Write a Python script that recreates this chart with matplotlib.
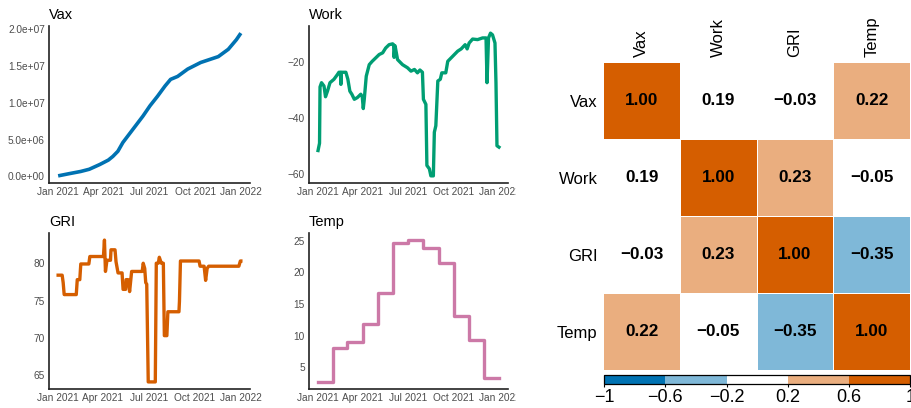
"""
Four daily indicators for 2021 (vaccinations, workplace mobility,
government response index, temperature) and their correlation matrix.
"""

import numpy as np
import pandas as pd
import matplotlib.pyplot as plt
import matplotlib.dates as mdates
from matplotlib.colors import ListedColormap, BoundaryNorm
from matplotlib.transforms import Bbox

plt.rcParams['font.family'] = ['Liberation Sans', 'DejaVu Sans']

# cumulative vaccinations
vax_dates = ['2021-01-01', '2021-01-23', '2021-02-15', '2021-03-04', '2021-03-25',
             '2021-04-11', '2021-04-20', '2021-04-30', '2021-05-10', '2021-05-30',
             '2021-06-19', '2021-07-03', '2021-07-18', '2021-08-02', '2021-08-13',
             '2021-08-27', '2021-09-16', '2021-10-12', '2021-11-16', '2021-12-06',
             '2021-12-22', '2021-12-31']
vax_values = [0.05e6, 0.35e6, 0.65e6, 0.95e6, 1.6e6,
              2.2e6, 2.7e6, 3.4e6, 4.6e6, 6.4e6,
              8.2e6, 9.6e6, 10.9e6, 12.3e6, 13.2e6,
              13.6e6, 14.6e6, 15.5e6, 16.3e6, 17.3e6,
              18.6e6, 19.5e6]

# workplace mobility (% change from baseline)
work_dates = ['2021-01-01', '2021-01-04', '2021-01-05', '2021-01-08', '2021-01-13',
              '2021-01-16', '2021-01-20', '2021-01-25', '2021-02-02', '2021-02-09',
              '2021-02-12', '2021-02-15', '2021-02-16', '2021-02-17', '2021-02-26',
              '2021-03-02', '2021-03-06', '2021-03-10', '2021-03-15', '2021-03-21',
              '2021-03-28', '2021-03-31', '2021-04-02', '2021-04-04', '2021-04-08',
              '2021-04-14', '2021-04-20', '2021-04-27', '2021-05-04', '2021-05-11',
              '2021-05-17', '2021-05-24', '2021-05-31', '2021-06-02', '2021-06-03',
              '2021-06-05', '2021-06-10', '2021-06-20', '2021-06-30', '2021-07-07',
              '2021-07-14', '2021-07-20', '2021-07-25', '2021-07-30', '2021-08-01',
              '2021-08-06', '2021-08-08', '2021-08-13', '2021-08-16', '2021-08-21',
              '2021-08-23', '2021-08-26', '2021-08-30', '2021-09-04', '2021-09-07',
              '2021-09-15', '2021-09-19', '2021-09-29', '2021-10-09', '2021-10-16',
              '2021-10-24', '2021-10-28', '2021-11-01', '2021-11-08', '2021-11-18',
              '2021-11-28', '2021-12-05', '2021-12-07', '2021-12-10', '2021-12-14',
              '2021-12-18', '2021-12-23', '2021-12-25', '2021-12-27', '2021-12-31']
work_values = [-51.6, -49.0, -29.0, -27.5, -28.7,
               -32.5, -30.5, -27.5, -26.3, -24.6,
               -23.8, -23.8, -28.1, -23.8, -23.8,
               -26.3, -30.5, -31.6, -33.4, -32.8,
               -31.6, -32.5, -36.7, -33.4, -25.2,
               -21.1, -19.9, -18.7, -17.5, -16.9,
               -15.2, -14.0, -13.7, -14.0, -18.5,
               -14.4, -19.3, -21.1, -22.2, -23.4,
               -22.8, -24.0, -23.0, -23.8, -33.4,
               -35.2, -56.9, -58.1, -60.6, -60.6,
               -45.1, -42.8, -26.9, -26.3, -24.0,
               -24.0, -19.9, -18.1, -16.3, -15.5,
               -14.0, -15.5, -13.4, -12.0, -12.2,
               -11.6, -11.6, -27.5, -11.6, -9.9,
               -10.5, -13.4, -27.5, -49.9, -50.4]

# government response index
gri_dates = ['2021-01-02', '2021-01-10', '2021-01-12', '2021-01-14', '2021-02-07',
             '2021-02-09', '2021-02-14', '2021-02-16', '2021-03-04', '2021-03-06',
             '2021-04-02', '2021-04-04', '2021-04-06', '2021-04-09', '2021-04-16',
             '2021-04-17', '2021-04-25', '2021-04-27', '2021-05-01', '2021-05-09',
             '2021-05-11', '2021-05-16', '2021-05-17', '2021-05-21', '2021-05-24',
             '2021-05-28', '2021-06-18', '2021-06-20', '2021-06-23', '2021-06-25',
             '2021-06-27', '2021-06-30', '2021-07-14', '2021-07-16', '2021-07-20',
             '2021-07-22', '2021-07-26', '2021-07-30', '2021-08-01', '2021-08-06',
             '2021-08-08', '2021-08-30', '2021-08-31', '2021-09-02', '2021-10-09',
             '2021-10-11', '2021-10-19', '2021-10-22', '2021-10-25', '2021-10-28',
             '2021-12-27', '2021-12-30', '2021-12-31']
gri_values = [78.4, 78.4, 77.4, 75.8, 75.8,
              77.8, 77.8, 79.9, 79.9, 80.9,
              80.9, 83.1, 78.9, 80.4, 80.4,
              81.8, 81.8, 80.2, 78.7, 78.7,
              76.5, 76.5, 77.8, 77.8, 76.2,
              78.9, 78.9, 80.0, 79.3, 77.4,
              77.2, 64.1, 64.1, 80.0, 80.0,
              80.8, 80.0, 80.0, 70.3, 70.3,
              73.5, 73.5, 74.9, 80.3, 80.3,
              79.6, 79.6, 77.7, 79.3, 79.6,
              79.6, 80.3, 80.3]

# monthly mean temperature
temp_months = ['2021-01-01', '2021-02-01', '2021-03-01', '2021-04-01', '2021-05-01',
               '2021-06-01', '2021-07-01', '2021-08-01', '2021-09-01', '2021-10-01',
               '2021-11-01', '2021-12-01']
temp_values = [2.7, 8.0, 9.05, 11.9, 16.8, 24.6, 25.1, 23.9, 21.5, 13.1, 9.3, 3.3]
temp_end = '2021-12-31'

# correlation matrix
var_names = ['Vax', 'Work', 'GRI', 'Temp']
corr = [[1.00, 0.19, -0.03, 0.22],
        [0.19, 1.00, 0.23, -0.05],
        [-0.03, 0.23, 1.00, -0.35],
        [0.22, -0.05, -0.35, 1.00]]
cbar_ticks = [-1, -0.6, -0.2, 0.2, 0.6, 1]
cbar_labels = ['\u22121', '\u22120.6', '\u22120.2', '0.2', '0.6', '1']

line_colors = {'Vax': '#0072B2', 'Work': '#009E73', 'GRI': '#D55E00', 'Temp': '#CC79A7'}
bin_colors = ['#0072B2', '#7FB8D8', '#FFFFFF', '#EAAE7F', '#D55E00']

W, H = 912, 408
fig = plt.figure(figsize=(W / 100, H / 100), dpi=100)


def px_axes(x0, y0, x1, y1):
    # axes from pixel box (top-left origin)
    return fig.add_axes([x0 / W, 1 - y1 / H, (x1 - x0) / W, (y1 - y0) / H])


def style_line_axes(ax, title):
    for side in ('top', 'right'):
        ax.spines[side].set_visible(False)
    for side in ('left', 'bottom'):
        ax.spines[side].set_linewidth(1.2)
        ax.spines[side].set_color('#222222')
    ax.tick_params(length=0, pad=3, labelsize=7.3, labelcolor='#4D4D4D')
    ax.xaxis.set_major_locator(mdates.MonthLocator(bymonth=[1, 4, 7, 10]))
    ax.xaxis.set_major_formatter(mdates.DateFormatter('%b %Y'))
    ax.set_title(title, loc='left', fontsize=10.5, pad=5)


ax_vax = px_axes(49, 26, 250, 183)
ax_vax.plot(pd.to_datetime(vax_dates), vax_values, color=line_colors['Vax'], lw=2.6,
            solid_capstyle='butt')
style_line_axes(ax_vax, 'Vax')
ax_vax.set_yticks([0, 5e6, 1e7, 1.5e7, 2e7])
ax_vax.set_yticklabels([f'{v:.1e}' for v in [0, 5e6, 1e7, 1.5e7, 2e7]])

ax_work = px_axes(309, 26, 508, 183)
ax_work.plot(pd.to_datetime(work_dates), work_values, color=line_colors['Work'], lw=2.4)
style_line_axes(ax_work, 'Work')
ax_work.set_yticks([-60, -40, -20])

ax_gri = px_axes(49, 233, 250, 389)
ax_gri.plot(pd.to_datetime(gri_dates), gri_values, color=line_colors['GRI'], lw=2.4)
style_line_axes(ax_gri, 'GRI')
ax_gri.set_yticks([65, 70, 75, 80])

ax_temp = px_axes(309, 233, 508, 389)
temp_x = pd.to_datetime(temp_months + [temp_end])
temp_y = temp_values + [temp_values[-1]]
ax_temp.plot(temp_x, temp_y, color=line_colors['Temp'], lw=2.4, drawstyle='steps-post')
style_line_axes(ax_temp, 'Temp')
ax_temp.set_yticks([5, 10, 15, 20, 25])

# correlation heatmap with binned colours
cmap = ListedColormap(bin_colors)
norm = BoundaryNorm(cbar_ticks, cmap.N)
ax_hm = px_axes(603.3, 62.3, 910, 370)
corr_arr = np.array(corr)
mesh = ax_hm.pcolormesh(corr_arr, cmap=cmap, norm=norm, edgecolors='white', linewidth=0.6)
ax_hm.set_xlim(0, 4)
ax_hm.set_ylim(4, 0)
for i in range(4):
    for j in range(4):
        txt = f'{corr[i][j]:.2f}'.replace('-', '\u2212')
        ax_hm.text(j + 0.5, i + 0.5, txt, ha='center', va='center',
                   fontsize=12.3, fontweight='bold', color='black')
ax_hm.set_xticks(np.arange(4) + 0.5)
ax_hm.set_xticklabels(var_names, rotation=90, fontsize=12)
ax_hm.xaxis.tick_top()
ax_hm.set_yticks(np.arange(4) + 0.5)
ax_hm.set_yticklabels(var_names, fontsize=12)
ax_hm.tick_params(length=0, pad=4)
for s in ax_hm.spines.values():
    s.set_visible(False)

cax = px_axes(604, 375, 910.5, 384)
cb = fig.colorbar(mesh, cax=cax, orientation='horizontal', ticks=cbar_ticks)
cb.set_ticklabels(cbar_labels)
cb.outline.set_linewidth(0.9)
cb.outline.set_edgecolor('black')
cax.tick_params(labelsize=13, length=2.5, width=0.8, pad=1)

# right column's last date label is cut at the panel edge
fig.canvas.draw()
clip = Bbox([[0, 0], [516, H]])
for ax in (ax_work, ax_temp):
    for lbl in ax.get_xticklabels():
        lbl.set_clip_box(clip)
        lbl.set_clip_on(True)

fig.savefig('out.png', dpi=100)
plt.close(fig)
